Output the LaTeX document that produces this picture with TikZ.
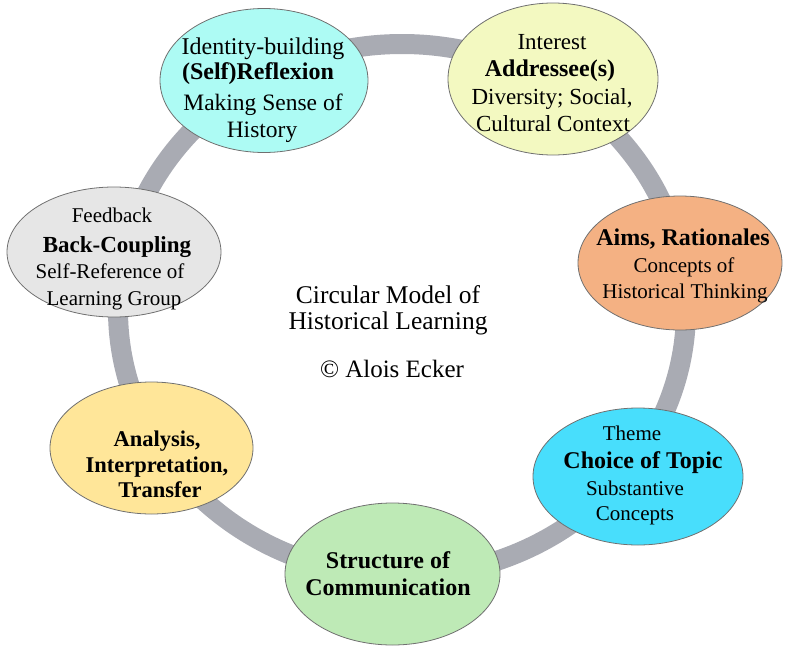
\documentclass[tikz,border=0pt]{standalone}
\usepackage{fontspec}
\setmainfont{Liberation Serif}
\newfontfamily\tms{Liberation Serif}
\usetikzlibrary{shapes.geometric}
\definecolor{ringgray}{HTML}{A9ABB3}
\definecolor{edgegray}{HTML}{707070}
\definecolor{cA}{HTML}{ADFBF4}
\definecolor{cB}{HTML}{F3F9C1}
\definecolor{cC}{HTML}{F4B183}
\definecolor{cD}{HTML}{48DEFC}
\definecolor{cE}{HTML}{BEEAB6}
\definecolor{cF}{HTML}{FFE699}
\definecolor{cG}{HTML}{E6E6E6}
\tikzset{
  bub/.style={ellipse, draw=edgegray, line width=0.8pt, inner sep=0pt},
  txt/.style={anchor=base, inner sep=0pt, text=black},
  rg/.style={txt, font=\tms\fontsize{#1}{#1}\selectfont\mdseries\upshape},
  bd/.style={txt, font=\tms\fontsize{#1}{#1}\selectfont\bfseries}
}
\begin{document}
\begin{tikzpicture}[x=1pt,y=-1pt]
\useasboundingbox (0,0) rectangle (787,648);
\coordinate (ringc) at (402,310);
\draw[ringgray, line width=20pt] (ringc) ellipse [x radius=284, y radius=266];

\node[bub, fill=cA, minimum width=208pt, minimum height=144pt] (e1) at (264,80.5) {};
\node[bub, fill=cB, minimum width=210pt, minimum height=152pt] (e2) at (553,79) {};
\node[bub, fill=cC, minimum width=204pt, minimum height=134pt] (e3) at (680,263) {};
\node[bub, fill=cD, minimum width=210pt, minimum height=137pt] (e4) at (638,476.5) {};
\node[bub, fill=cE, minimum width=215pt, minimum height=142pt] (e5) at (392.5,574) {};
\node[bub, fill=cF, minimum width=203pt, minimum height=132pt] (e6) at (151.5,448) {};
\node[bub, fill=cG, minimum width=214pt, minimum height=130pt] (e7) at (114,252) {};

% E1
\node[rg=24] (t1a) at (263,54) {Identity-building};
\node[bd=24] (t1b) at (258,79) {(Self)Reflexion};
\node[rg=23.5] (t1c) at (263,110) {Making Sense of};
\node[rg=23.5] (t1d) at (262,137) {History};
% E2
\node[rg=23] (t2a) at (552,49) {Interest};
\node[bd=24] (t2b) at (550,76) {Addressee(s)};
\node[rg=23] (t2c) at (552,104) {Diversity; Social,};
\node[rg=23] (t2d) at (553,131) {Cultural Context};
% E3
\node[bd=24] (t3a) at (683,245) {Aims, Rationales};
\node[rg=21] (t3b) at (684,272) {Concepts of};
\node[rg=21] (t3c) at (685,298) {Historical Thinking};
% E4
\node[rg=21] (t4a) at (632,440) {Theme};
\node[bd=24] (t4b) at (643,468) {Choice of Topic};
\node[rg=21] (t4c) at (635,495) {Substantive};
\node[rg=21] (t4d) at (635,520) {Concepts};
% E5
\node[bd=24] (t5a) at (388,568) {Structure of};
\node[bd=24] (t5b) at (388,595) {Communication};
% E6
\node[bd=22.5] (t6a) at (157,446) {Analysis,};
\node[bd=22.5] (t6b) at (157,472) {Interpretation,};
\node[bd=22.5] (t6c) at (160,497) {Transfer};
% E7
\node[rg=21] (t7a) at (112,222) {Feedback};
\node[bd=23] (t7b) at (117,252) {Back-Coupling};
\node[rg=21] (t7c) at (110,278) {Self-Reference of};
\node[rg=21] (t7d) at (114,305) {Learning Group};
% centre
\node[rg=25.5] (m1) at (388,303) {Circular Model of};
\node[rg=25.5] (m2) at (388,329) {Historical Learning};
\node[rg=25] (m3) at (392,377) {© Alois Ecker};
\end{tikzpicture}
\end{document}
